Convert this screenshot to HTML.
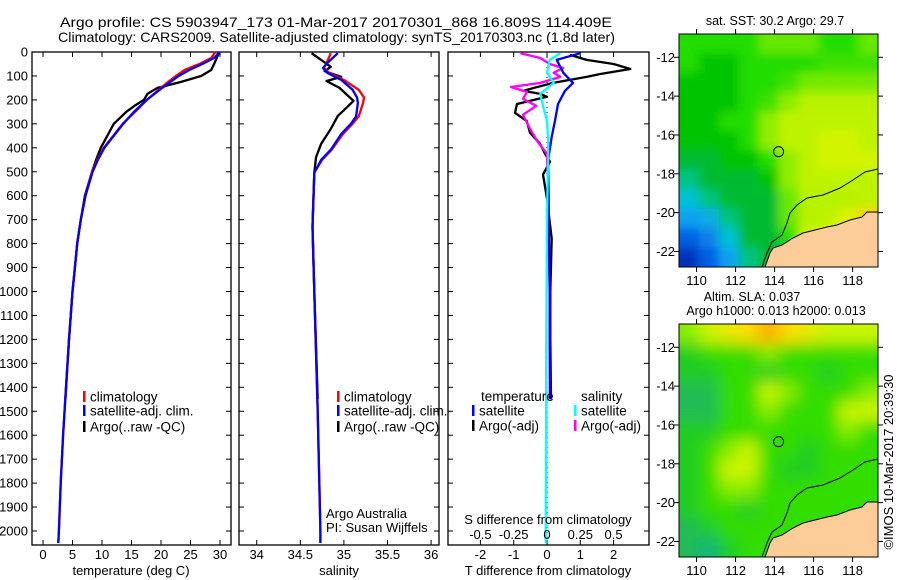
<!DOCTYPE html>
<html><head><meta charset="utf-8"><style>
body{margin:0;background:#fff;}
svg{display:block;font-family:"Liberation Sans",sans-serif;}
text{fill:#000;}
</style></head><body>
<svg id="fig" width="900" height="580" viewBox="0 0 900 580">
<defs>
<filter id="blurS" x="-10%" y="-10%" width="120%" height="120%"><feGaussianBlur stdDeviation="5"/></filter>
<filter id="blurL" x="-10%" y="-10%" width="120%" height="120%"><feGaussianBlur stdDeviation="8"/></filter>
<clipPath id="clipMap1"><rect x="679" y="34" width="199" height="233"/></clipPath>
<clipPath id="clipMap2"><rect x="679" y="324" width="199" height="233"/></clipPath>
</defs>
<text x="60" y="27" font-size="14" textLength="552" lengthAdjust="spacingAndGlyphs">Argo profile: CS 5903947_173 01-Mar-2017 20170301_868 16.809S 114.409E</text>
<text x="58" y="42" font-size="14" textLength="557" lengthAdjust="spacingAndGlyphs">Climatology: CARS2009. Satellite-adjusted climatology: synTS_20170303.nc (1.8d later)</text>
<g id="g1"></g>
<g id="g2"></g>
<g id="g3"></g>
<g id="m1"></g>
<g id="m2"></g>
<text x="0" y="0" font-size="13" text-anchor="middle" transform="translate(893,462) rotate(-90)">©IMOS 10-Mar-2017 20:39:30</text>
</svg>
<script>
// ---- profile data ----
const climDepth = [0,25,50,75,100,125,150,200,250,300,350,400,450,500,600,700,800,900,1000,1200,1400,1600,1800,2000,2050];
const climTemp = [29.2,28.5,26.5,24.0,22.5,21.2,20.0,17.6,15.6,13.5,11.9,10.3,9.2,8.3,7.2,6.4,5.8,5.4,5.0,4.4,3.9,3.4,3.0,2.7,2.6];
const satTemp = [29.9,29.0,27.0,24.8,23.0,21.6,20.2,17.6,15.4,13.6,12.0,10.4,9.3,8.4,7.2,6.4,5.8,5.4,5.0,4.4,3.9,3.4,3.0,2.7,2.6];
const argoDepth = [5,50,75,100,125,150,175,200,225,250,300,350,400,450,500,600,700,800,900,1000,1200,1450];
const argoTemp = [29.8,29.0,28.5,26.8,23.4,19.4,17.7,17.1,15.5,14.1,12.0,10.9,9.8,9.0,8.3,7.1,6.4,5.8,5.4,5.0,4.4,3.8];

const salDepth = [5,46,67,87,117,158,190,212,269,300,342,408,450,504,729,1000,1500,2000,2050];
const climSal = [34.85,34.80,34.77,34.83,35.00,35.17,35.23,35.22,35.17,35.10,34.99,34.86,34.75,34.66,34.64,34.66,34.70,34.73,34.73];
const satSal = [34.93,34.81,34.76,34.81,34.97,35.10,35.15,35.16,35.14,35.08,34.97,34.85,34.74,34.66,34.64,34.66,34.70,34.73,34.73];
const argoSalDepth = [5,33,62,80,104,121,150,204,229,267,321,383,440,504,729,1000,1450];
const argoSal = [34.63,34.74,34.85,34.78,34.97,34.80,34.95,35.11,35.04,34.93,34.85,34.74,34.68,34.66,34.64,34.66,34.70];

const tdDepth = [5,33,87,129,162,217,287,354,454,600,800,1000,1200,1450];
const satTdiff = [1.0,0.29,0.49,0.78,0.54,0.33,0.24,0.14,0.03,0.05,0.06,0.08,0.08,0.1];
const argoTdDepth = [12,33,50,71,92,104,129,162,175,187,217,254,288,337,383,425,458,512,612,779,1000,1200,1450];
const argoTdiff = [0.69,1.19,2.0,2.5,1.6,1.19,0.18,-0.72,-0.2,0,-0.9,-0.96,-0.61,-0.51,-0.21,-0.06,0.09,-0.12,0,0.14,0.1,0.1,0.12];
const argoSdDepth = [5,25,50,67,87,104,129,146,167,196,225,262,318,375,425,600,1000,1450];
const argoSdiff = [-0.20,-0.05,0.02,0.12,0.05,0.10,-0.05,-0.27,-0.15,-0.18,-0.08,-0.18,-0.13,-0.07,0,0.01,0.02,0.02];
const satSdDepth = [5,33,87,129,175,225,288,375,700,1200,2000,2050];
const satSdiff = [0.10,0.02,0,0.05,-0.05,-0.03,0,0.01,0,-0.005,-0.01,-0.01];

const depthTicks = [0,100,200,300,400,500,600,700,800,900,1000,1100,1200,1300,1400,1500,1600,1700,1800,1900,2000];
const tempTicks = [0,5,10,15,20,25,30];
const salTicks = [34,34.5,35,35.5,36];
const tdTicks = [-2,-1,0,1,2];
const sdTickLabels = ['-0.5','-0.25','0','0.25','0.5'];
const sdTicks = [-0.5,-0.25,0,0.25,0.5];

// ---- map data (rows lat -11..-22, cols lon ~109.6..118.8) ----
const sstGrid = [
[3,3,3,3,3.5,3.5,3.5,3,3,3.5],
[3,2.5,2.5,3,3,3,3,3.2,3.2,3.2],
[2.5,2.5,2.5,3,3,3.2,3.6,3.6,3.6,3.6],
[2.5,2.5,2.5,3,3.2,3.8,4.2,4.2,4.2,4.2],
[2.5,2.5,3,3,3.8,4.3,4.3,4.3,4.3,4.3],
[2.5,2.5,2.5,3,3.8,4.3,4.3,4.6,4.6,4.3],
[2,2,2.5,2.5,3,3.8,4.3,4.6,4.6,4.6],
[1.8,2,2,2,2.5,3.8,4.3,4.3,4.3,4.3],
[1.5,1.8,2,2,2,3.5,4.2,4.2,4.2,4.3],
[1.2,1.3,1.8,2,2,3.5,4.2,4.3,4.8,5.5],
[0.8,1,1.5,2,2,3,4.5,5,5,5],
[0.3,0.8,1.2,1.8,2,2.5,4,4.5,4.5,4.5]];
const slaGrid = [
[3.5,4,4.5,5,5.5,5,4.5,4,4,4],
[2.5,3,3,3,3.5,3,3,3,3,3],
[2.5,2.5,3,3,2.5,3,3,2.5,3,3],
[2,2,3,3,4,3.5,3,3,3,3.5],
[2,2,3,3,3.5,3,3,3,4,4],
[2.5,2.5,3,3,3,3,3,3,3.5,3],
[2.5,3,3.5,4,3,3,2.5,3,3,3],
[2.5,3,4,4,3,2.5,2.5,3,3,3],
[2.5,3,3.5,3.5,3,3,3,3,3,3],
[2.5,3,3,2.5,3,3,3,3,3,3],
[2,2.5,3,3,3,3,3,3,3,3],
[2,1.8,2.5,3,3,3,3,3,3,3]];
const latTicks = [-12,-14,-16,-18,-20,-22];
const lonTicks = [110,112,114,116,118];
const argoLon = 114.409, argoLat = -16.809;

const NS='http://www.w3.org/2000/svg';
function mk(parent,tag,attrs,txt){const e=document.createElementNS(NS,tag);for(const k in attrs)e.setAttribute(k,attrs[k]);if(txt!==undefined)e.textContent=txt;parent.appendChild(e);return e;}

const yD = d => 52 + d*0.2395;
const plotTop=52, plotBot=545;

function frame(g,x0,x1,name){
  const r=mk(g,'rect',{x:x0,y:plotTop,width:x1-x0,height:plotBot-plotTop,fill:'none',stroke:'#000','stroke-width':1.3});
  
  
  depthTicks.forEach(d=>{
    mk(g,'line',{x1:x0,x2:x0+5,y1:yD(d),y2:yD(d),stroke:'#000','stroke-width':1});
    mk(g,'line',{x1:x1,x2:x1-5,y1:yD(d),y2:yD(d),stroke:'#000','stroke-width':1});
  });
}
function line(g,xs,ds,xf,color,w,name){
  const pts=xs.map((v,i)=>xf(v).toFixed(1)+','+yD(ds[i]).toFixed(1)).join(' ');
  const p=mk(g,'polyline',{points:pts,fill:'none',stroke:color,'stroke-width':w,'stroke-linejoin':'round'});
  
  
}
function xTicks(g,ticks,labels,xf,ly){
  ticks.forEach((t,i)=>{
    const x=xf(t);
    mk(g,'line',{x1:x,x2:x,y1:plotTop,y2:plotTop+5,stroke:'#000'});
    mk(g,'line',{x1:x,x2:x,y1:plotBot,y2:plotBot-5,stroke:'#000'});
    if(ly){const tx=mk(g,'text',{x:x,y:ly,'font-size':13,'text-anchor':'middle'},labels[i]);
      
      }
  });
}
function legend(g,x,y,color,label){
  mk(g,'rect',{x:x,y:y-6,width:2.5,height:11,fill:color});
  const t=mk(g,'text',{x:x+7,y:y+4.5,'font-size':13.5},label);
  
  
}

// Panel 1
const g1=document.getElementById('g1');
const xT = t => 43 + t*5.9;
frame(g1,32,231,'temperature-plot-frame');
depthTicks.forEach(d=>{const t=mk(g1,'text',{x:28,y:yD(d)+4.5,'font-size':13,'text-anchor':'end'},String(d));
  
  });
xTicks(g1,tempTicks,tempTicks.map(String),xT,559);
line(g1,argoTemp,argoDepth,xT,'#000',2.3,'argo-temperature-line');
line(g1,climTemp,climDepth,xT,'#f00',2.3,'climatology-temperature-line');
line(g1,satTemp,climDepth,xT,'#00f',2.3,'satellite-temperature-line');
legend(g1,83,397,'#f00','climatology');
legend(g1,83,411,'#00f','satellite-adj. clim.');
legend(g1,83,427,'#000','Argo(..raw -QC)');
mk(g1,'text',{x:131,y:575,'font-size':13,'text-anchor':'middle'},'temperature (deg C)');

// Panel 2
const g2=document.getElementById('g2');
const xS = s => 256.7 + (s-34)*87.2;
frame(g2,239,439,'salinity-plot-frame');
xTicks(g2,salTicks,salTicks.map(String),xS,559);
line(g2,argoSal,argoSalDepth,xS,'#000',2.3,'argo-salinity-line');
line(g2,climSal,salDepth,xS,'#f00',2.3,'climatology-salinity-line');
line(g2,satSal,salDepth,xS,'#00f',2.3,'satellite-salinity-line');
legend(g2,337,397,'#f00','climatology');
legend(g2,337,411,'#00f','satellite-adj. clim.');
legend(g2,337,427,'#000','Argo(..raw -QC)');
mk(g2,'text',{x:326,y:518,'font-size':13},'Argo Australia');
mk(g2,'text',{x:326,y:532,'font-size':13},'PI: Susan Wijffels');
mk(g2,'text',{x:339,y:575,'font-size':13,'text-anchor':'middle'},'salinity');

// Panel 3
const g3=document.getElementById('g3');
const xTd = t => 547 + t*33.3;
const xSd = s => 547 + s*133.2;
frame(g3,448,649,'difference-plot-frame');
xTicks(g3,tdTicks,tdTicks.map(String),xTd,559);
mk(g3,'line',{x1:xTd(0),x2:xTd(0),y1:plotTop,y2:plotBot,stroke:'#000','stroke-dasharray':'1,4'});
line(g3,argoTdiff,argoTdDepth,xTd,'#000',2.3,'argo-temperature-diff-line');
line(g3,argoSdiff,argoSdDepth,xSd,'#f0f',2.3,'argo-salinity-diff-line');
line(g3,satTdiff,tdDepth,xTd,'#00f',2.3,'satellite-temperature-diff-line');
line(g3,satSdiff,satSdDepth,xSd,'#0ff',2.3,'satellite-salinity-diff-line');
mk(g3,'text',{x:481,y:401,'font-size':13.5},'temperature');
mk(g3,'text',{x:581,y:401,'font-size':13.5},'salinity');
legend(g3,472,411,'#00f','satellite');
legend(g3,472,426,'#000','Argo(-adj)');
legend(g3,574,411,'#0ff','satellite');
legend(g3,574,426,'#f0f','Argo(-adj)');
mk(g3,'text',{x:548,y:524,'font-size':13,'text-anchor':'middle'},'S difference from climatology');
sdTicks.forEach((s,i)=>{const t=mk(g3,'text',{x:xSd(s),y:539,'font-size':13,'text-anchor':'middle'},sdTickLabels[i]);
  
  });
mk(g3,'text',{x:548,y:575,'font-size':13,'text-anchor':'middle'},'T difference from climatology');

// ---- maps ----
function interpColor(stops,v){
  if(v<=stops[0][0])return stops[0][1];
  for(let i=1;i<stops.length;i++){if(v<=stops[i][0]){const a=stops[i-1],b=stops[i];const f=(v-a[0])/(b[0]-a[0]);
    const ca=a[1].match(/\w\w/g).map(h=>parseInt(h,16)),cb=b[1].match(/\w\w/g).map(h=>parseInt(h,16));
    return 'rgb('+ca.map((c,k)=>Math.round(c+(cb[k]-c)*f)).join(',')+')';}}
  return stops[stops.length-1][1];
}
const sstStops=[[0,'#0818a0'],[0.7,'#0050e0'],[1.2,'#10a0f0'],[1.6,'#00cccc'],[2,'#00bb33'],[2.5,'#00c400'],[3,'#22dd00'],[3.5,'#66e800'],[4,'#aaf000'],[4.5,'#ccf500'],[5,'#eeee00'],[5.5,'#ffcc00'],[6,'#ff9900']];
const slaStops=[[1.8,'#11b87a'],[2,'#22bb55'],[2.5,'#22cc22'],[3,'#33dd00'],[3.5,'#88ee00'],[4,'#ccf500'],[5,'#ffdd00'],[5.5,'#ffaa00']];
const landPts=[[86,233],[91,219],[94,214],[103,211],[114,204],[124,199],[136,196],[148,193],[158,191],[171,186],[183,183],[188,178],[199,178],[199,233]];
const shelfPts=[[83,233],[88,219],[93,208],[103,201],[108,189],[111,179],[118,171],[128,164],[144,161],[161,154],[174,146],[186,138],[199,135]];

function drawMap(g,oy,grid,stops,blur,clip,titles){
  const ox=679,W=199,H=233;
  const lonL=109.1,lonR=119.3,latT=-10.8,latB=-22.8;
  const xL=lon=>ox+(lon-lonL)/(lonR-lonL)*W;
  const yL=lat=>oy+(latT-lat)/(latT-latB)*H;
  const cg=mk(g,'g',{'clip-path':'url(#'+clip+')'});
  const bg=mk(cg,'g',{filter:'url(#'+blur+')'});
  const rows=grid.length, cols=grid[0].length;
  for(let r=0;r<rows;r++)for(let c=0;c<cols;c++){
    let x0=ox+c*W/cols,x1=ox+(c+1)*W/cols,y0=oy+r*H/rows,y1=oy+(r+1)*H/rows;
    if(c==0)x0-=20; if(c==cols-1)x1+=20; if(r==0)y0-=20; if(r==rows-1)y1+=20;
    const cell=mk(bg,'rect',{x:x0.toFixed(1),y:y0.toFixed(1),width:(x1-x0+0.5).toFixed(1),height:(y1-y0+0.5).toFixed(1),fill:interpColor(stops,grid[r][c])});
    
    
  }
  mk(cg,'polygon',{points:landPts.map(p=>(ox+p[0])+','+(oy+p[1])).join(' '),fill:'#fccc99',stroke:'#000','stroke-width':1});
  mk(cg,'polyline',{points:shelfPts.map(p=>(ox+p[0])+','+(oy+p[1])).join(' '),fill:'none',stroke:'#000','stroke-width':1});
  mk(g,'rect',{x:ox,y:oy,width:W,height:H,fill:'none',stroke:'#000','stroke-width':1});
  const c=mk(g,'circle',{cx:xL(argoLon)-4,cy:yL(argoLat)+1,r:5,fill:'none',stroke:'#000','stroke-width':1});
  
  
  latTicks.forEach(l=>{const y=yL(l);
    mk(g,'line',{x1:ox,x2:ox-5,y1:y,y2:y,stroke:'#000'});mk(g,'line',{x1:ox+W,x2:ox+W+5,y1:y,y2:y,stroke:'#000'});
    const t=mk(g,'text',{x:ox-4,y:y+4.5,'font-size':13,'text-anchor':'end'},String(l));
    
    });
  lonTicks.forEach(l=>{const x=xL(l);
    mk(g,'line',{x1:x,x2:x,y1:oy,y2:oy-5,stroke:'#000'});mk(g,'line',{x1:x,x2:x,y1:oy+H,y2:oy+H+5,stroke:'#000'});
    const t=mk(g,'text',{x:x,y:oy+H+18,'font-size':13,'text-anchor':'middle'},String(l));
    
    });
  titles.forEach(tt=>{const t=mk(g,'text',{x:tt[1],y:tt[2],'font-size':12.5,'text-anchor':'middle'},tt[0]);
    
    });
}
drawMap(document.getElementById('m1'),34,sstGrid,sstStops,'blurS','clipMap1',[['sat. SST: 30.2 Argo: 29.7',775,25]]);
drawMap(document.getElementById('m2'),324,slaGrid,slaStops,'blurL','clipMap2',[['Altim. SLA: 0.037',752,301],['Argo h1000: 0.013 h2000: 0.013',776,315]]);
</script>
</body></html>
